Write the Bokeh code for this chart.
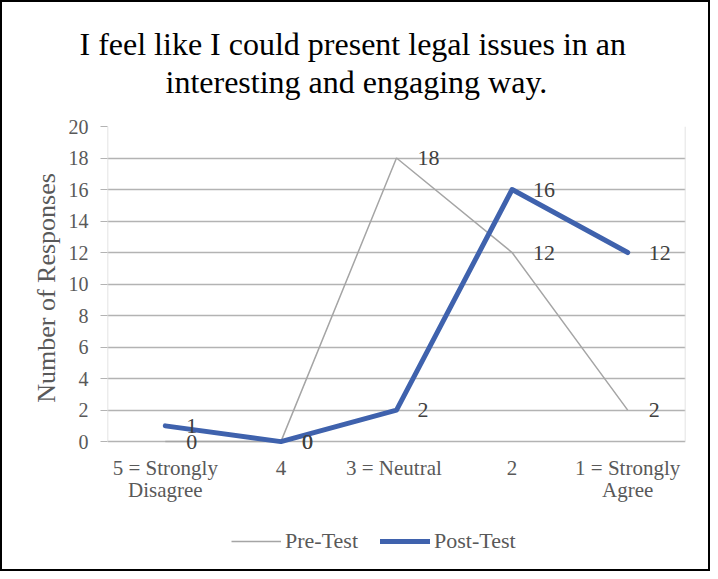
from bokeh.plotting import figure
from bokeh.layouts import column
from bokeh.models import (ColumnDataSource, Range1d, FixedTicker, Legend, LegendItem, Title)
from bokeh.core.properties import value
from bokeh.embed import file_html
from bokeh.resources import INLINE

categories = ["5 = Strongly\nDisagree", "4", "3  = Neutral", "2", "1 = Strongly\nAgree"]
pre_test = [0, 0, 18, 12, 2]
post_test = [1, 0, 2, 16, 12]
y_ticks = [0, 2, 4, 6, 8, 10, 12, 14, 16, 18, 20]
title_lines = ["I feel like I could present legal issues in an", "interesting and engaging way."]
series_names = ["Pre-Test", "Post-Test"]

FONT = "Liberation Serif"
GREY_TXT = "#595959"
PRE_COLOR, POST_COLOR = "#a5a5a5", "#3f62ad"
x = list(range(len(categories)))
x_lo, x_hi = -0.5, len(categories) - 0.5
y_lo, y_hi = 0, 20

src_pre = ColumnDataSource(dict(x=x, y=pre_test, t=[str(v) for v in pre_test]))
src_post = ColumnDataSource(dict(x=x, y=post_test, t=[str(v) for v in post_test]))

p = figure(frame_width=574, frame_height=321, output_backend="svg", toolbar_location=None,
           x_range=Range1d(x_lo, x_hi), y_range=Range1d(-0.5, y_hi),
           min_border_left=105, min_border_right=27, min_border_top=124, min_border_bottom=60)
p.styles = {"border": "2px solid black", "border-bottom": "none"}

spacer = Title(text=" ", text_font_size="1px", standoff=24)
t2 = Title(text=title_lines[1], align="left", offset=58, text_font=FONT,
           text_font_size="32px", text_font_style="normal", text_color="black", standoff=0)
t1 = Title(text=title_lines[0], align="left", offset=-28, text_font=FONT,
           text_font_size="32px", text_font_style="normal", text_color="black", standoff=0)
p.add_layout(spacer, "above")
p.add_layout(t2, "above")
p.add_layout(t1, "above")

p.outline_line_color = None
p.xgrid.grid_line_color = None
p.ygrid.grid_line_color = "#b3b3b3"
p.ygrid.grid_line_width = 1.3

# plot-area edges (left axis line and right edge) from 0 to 20
p.segment(x0=[x_lo, x_hi], y0=[y_lo, y_lo], x1=[x_lo, x_hi], y1=[y_hi, y_hi],
          line_color="#d9d9d9", line_width=1.5)

p.yaxis.ticker = FixedTicker(ticks=y_ticks)
p.yaxis.axis_line_color = None
p.yaxis.major_tick_line_color = "#b3b3b3"
p.yaxis.major_tick_out = 7
p.yaxis.major_tick_in = 0
p.yaxis.minor_tick_line_color = None
p.yaxis.major_label_standoff = 12
p.yaxis.major_label_text_font = FONT
p.yaxis.major_label_text_font_size = "20px"
p.yaxis.major_label_text_color = GREY_TXT
p.yaxis.axis_label = "Number of Responses"
p.yaxis.axis_label_text_font = FONT
p.yaxis.axis_label_text_font_size = "26px"
p.yaxis.axis_label_text_font_style = "normal"
p.yaxis.axis_label_text_color = GREY_TXT
p.yaxis.axis_label_standoff = 5

p.xaxis.ticker = FixedTicker(ticks=x)
p.xaxis.major_label_overrides = {i: c for i, c in enumerate(categories)}
p.xaxis.axis_line_color = None
p.xaxis.major_tick_line_color = None
p.xaxis.minor_tick_line_color = None
p.xaxis.major_label_text_font = FONT
p.xaxis.major_label_text_font_size = "21px"
p.xaxis.major_label_text_line_height = 0.95
p.xaxis.major_label_text_color = GREY_TXT
p.xaxis.major_label_standoff = 0

p.line("x", "y", source=src_pre, line_color=PRE_COLOR, line_width=1.5)
p.line("x", "y", source=src_post, line_color=POST_COLOR, line_width=5,
       line_cap="round", line_join="round")

for src in (src_pre, src_post):
    p.text("x", "y", text="t", source=src, x_offset=21, text_align="left",
           text_baseline="middle", text_font=value(FONT), text_font_size="22px",
           text_color="#404040")

# legend strip under the chart
lf = figure(frame_width=706, frame_height=62, output_backend="svg", toolbar_location=None,
            x_range=Range1d(0, 1), y_range=Range1d(0, 1),
            x_axis_location=None, y_axis_location=None,
            min_border_left=0, min_border_right=0, min_border_top=0, min_border_bottom=0)
lf.styles = {"border": "2px solid black", "border-top": "none"}
lf.grid.visible = False
lf.outline_line_color = None
lr_pre = lf.line(x=[-5, -4], y=[-5, -5], line_color=PRE_COLOR, line_width=1.5)
lr_post = lf.line(x=[-5, -4], y=[-5, -5], line_color=POST_COLOR, line_width=5, line_cap="round")
legend = Legend(items=[LegendItem(label=series_names[0], renderers=[lr_pre]),
                       LegendItem(label=series_names[1], renderers=[lr_post])],
                orientation="horizontal", location=(229, 17),
                label_text_font=FONT, label_text_font_size="22px", label_text_color=GREY_TXT,
                glyph_width=50, label_standoff=4, spacing=22, border_line_color=None,
                background_fill_alpha=0, margin=0, padding=0)
lf.add_layout(legend, "center")

layout = column(p, lf, spacing=0)
open("out.html", "w").write(file_html(layout, INLINE))
